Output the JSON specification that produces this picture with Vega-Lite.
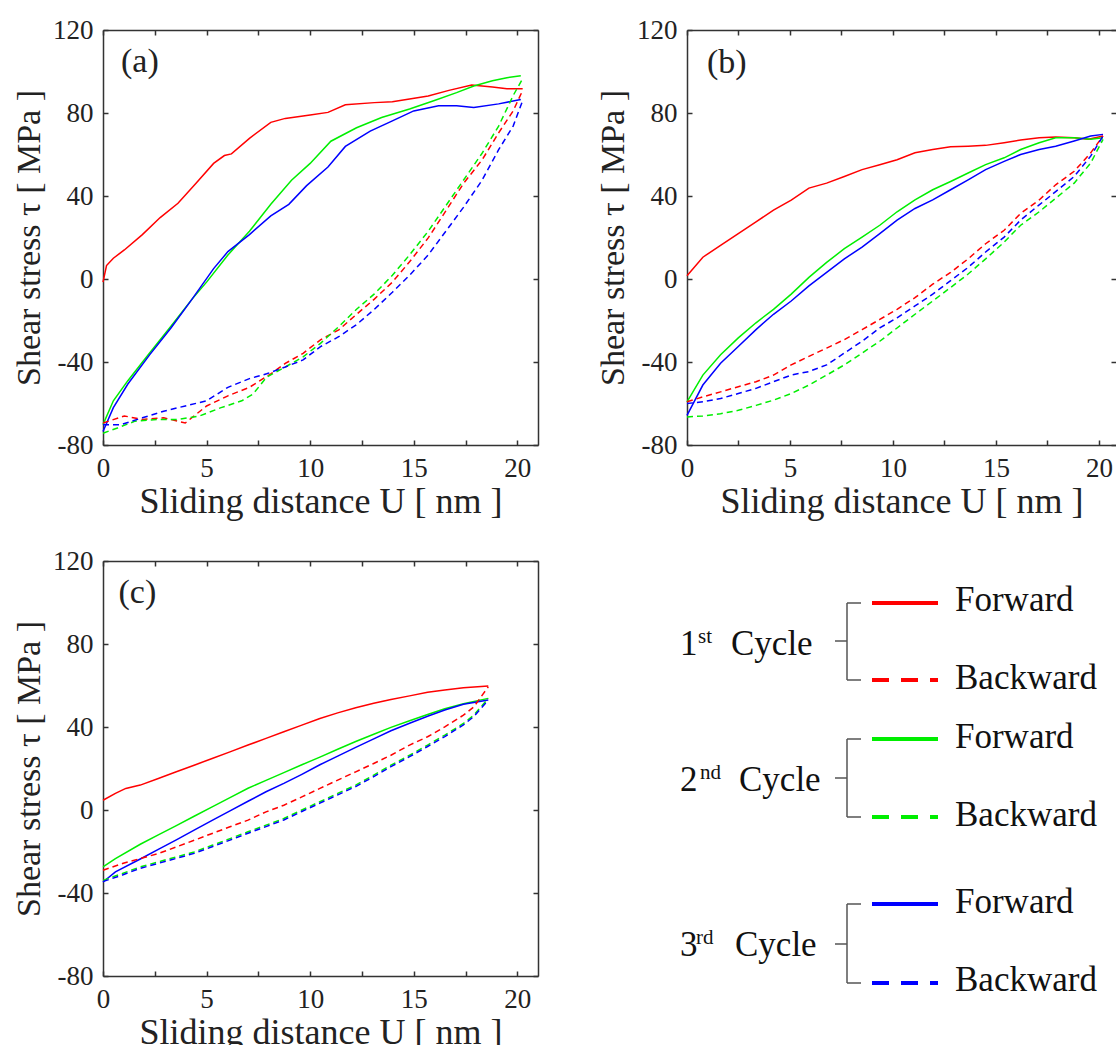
{
"$schema": "https://vega.github.io/schema/vega-lite/v6.json",
"padding": {"left": 12, "top": 16, "right": 0, "bottom": 0},
"background": "white",
"config": {
  "view": {"stroke": null},
  "font": "'Liberation Serif', 'Times New Roman', 'DejaVu Serif', serif",
  "axis": {"domainColor": "#333333", "domainWidth": 1.5, "tickColor": "#333333", "tickWidth": 1.5, "tickSize": -5, "grid": false,
    "labelFont": "'Liberation Serif', 'Times New Roman', 'DejaVu Serif', serif", "labelFontSize": 27, "labelColor": "#222", "labelFlush": false, "labelOverlap": false,
    "titleFont": "'Liberation Serif', 'Times New Roman', 'DejaVu Serif', serif", "titleFontSize": 34, "titleFontWeight": "normal", "titleColor": "#222"},
  "text": {"font": "'Liberation Serif', 'Times New Roman', 'DejaVu Serif', serif"}
},
"columns": 2,
"bounds": "flush",
"spacing": {"row": 116, "column": 149},
"datasets": {
"labels": [
 {"p": "a", "t": "(a)", "x": 0.87, "y": 104.7},
 {"p": "b", "t": "(b)", "x": 0.97, "y": 104},
 {"p": "c", "t": "(c)", "x": 0.75, "y": 104.6}
],
"legBracket": [
 {"x": 160, "x2": 160, "y": 42, "y2": 119}, {"x": 160, "x2": 174, "y": 42, "y2": 42}, {"x": 160, "x2": 174, "y": 119, "y2": 119}, {"x": 148, "x2": 160, "y": 80, "y2": 80},
 {"x": 160, "x2": 160, "y": 178, "y2": 256}, {"x": 160, "x2": 174, "y": 178, "y2": 178}, {"x": 160, "x2": 174, "y": 256, "y2": 256}, {"x": 148, "x2": 160, "y": 217, "y2": 217},
 {"x": 160, "x2": 160, "y": 343, "y2": 422}, {"x": 160, "x2": 174, "y": 343, "y2": 343}, {"x": 160, "x2": 174, "y": 422, "y2": 422}, {"x": 148, "x2": 160, "y": 383, "y2": 383}
],
"legLines": [
 {"c": "1", "d": "F", "x": 185, "x2": 251, "y": 42}, {"c": "1", "d": "B", "x": 185, "x2": 251, "y": 119},
 {"c": "2", "d": "F", "x": 185, "x2": 251, "y": 178}, {"c": "2", "d": "B", "x": 185, "x2": 251, "y": 256},
 {"c": "3", "d": "F", "x": 185, "x2": 251, "y": 343}, {"c": "3", "d": "B", "x": 185, "x2": 251, "y": 422}
],
"legText": [
 {"k": "main", "t": "1", "x": -7, "y": 94}, {"k": "sup", "t": "st", "x": 11, "y": 82}, {"k": "main", "t": "Cycle", "x": 44, "y": 94},
 {"k": "main", "t": "2", "x": -7, "y": 230}, {"k": "sup", "t": "nd", "x": 13, "y": 218}, {"k": "main", "t": "Cycle", "x": 52, "y": 230},
 {"k": "main", "t": "3", "x": -7, "y": 395}, {"k": "sup", "t": "rd", "x": 9, "y": 383}, {"k": "main", "t": "Cycle", "x": 48, "y": 395},
 {"k": "main", "t": "Forward", "x": 268, "y": 50}, {"k": "main", "t": "Backward", "x": 268, "y": 128},
 {"k": "main", "t": "Forward", "x": 268, "y": 187}, {"k": "main", "t": "Backward", "x": 268, "y": 265},
 {"k": "main", "t": "Forward", "x": 268, "y": 352}, {"k": "main", "t": "Backward", "x": 268, "y": 430}
],
"curves": [
{"p":"a","c":"1","d":"F","x":0,"y":-1.5},{"p":"a","c":"1","d":"F","x":0.17,"y":6.5},{"p":"a","c":"1","d":"F","x":0.5,"y":10},{"p":"a","c":"1","d":"F","x":1.03,"y":14},{"p":"a","c":"1","d":"F","x":1.9,"y":21.4},{"p":"a","c":"1","d":"F","x":2.76,"y":29.6},{"p":"a","c":"1","d":"F","x":3.62,"y":36.5},{"p":"a","c":"1","d":"F","x":4.48,"y":46},{"p":"a","c":"1","d":"F","x":5.34,"y":55.7},{"p":"a","c":"1","d":"F","x":5.86,"y":59.5},{"p":"a","c":"1","d":"F","x":6.2,"y":60.3},{"p":"a","c":"1","d":"F","x":7.07,"y":67.8},{"p":"a","c":"1","d":"F","x":8.1,"y":75.5},{"p":"a","c":"1","d":"F","x":8.8,"y":77.4},{"p":"a","c":"1","d":"F","x":10,"y":79},{"p":"a","c":"1","d":"F","x":10.86,"y":80.3},{"p":"a","c":"1","d":"F","x":11.7,"y":84},{"p":"a","c":"1","d":"F","x":13.1,"y":85},{"p":"a","c":"1","d":"F","x":13.97,"y":85.4},{"p":"a","c":"1","d":"F","x":14.8,"y":86.8},{"p":"a","c":"1","d":"F","x":15.7,"y":88.2},{"p":"a","c":"1","d":"F","x":16.7,"y":90.9},{"p":"a","c":"1","d":"F","x":17.8,"y":93.5},{"p":"a","c":"1","d":"F","x":18.8,"y":92.5},{"p":"a","c":"1","d":"F","x":19.5,"y":91.7},{"p":"a","c":"1","d":"F","x":20.26,"y":91.7},
{"p":"a","c":"1","d":"B","x":20.26,"y":90.9},{"p":"a","c":"1","d":"B","x":19.8,"y":81},{"p":"a","c":"1","d":"B","x":19.1,"y":70.4},{"p":"a","c":"1","d":"B","x":18.3,"y":57.4},{"p":"a","c":"1","d":"B","x":17.4,"y":46},{"p":"a","c":"1","d":"B","x":16.55,"y":32.8},{"p":"a","c":"1","d":"B","x":15.7,"y":19.8},{"p":"a","c":"1","d":"B","x":14.8,"y":8.3},{"p":"a","c":"1","d":"B","x":13.97,"y":-1.5},{"p":"a","c":"1","d":"B","x":13.1,"y":-9.7},{"p":"a","c":"1","d":"B","x":12.24,"y":-17},{"p":"a","c":"1","d":"B","x":11.4,"y":-24.4},{"p":"a","c":"1","d":"B","x":10.5,"y":-29.3},{"p":"a","c":"1","d":"B","x":9.66,"y":-35.8},{"p":"a","c":"1","d":"B","x":8.8,"y":-40.7},{"p":"a","c":"1","d":"B","x":8.1,"y":-45.7},{"p":"a","c":"1","d":"B","x":7.07,"y":-52.2},{"p":"a","c":"1","d":"B","x":6.03,"y":-56.3},{"p":"a","c":"1","d":"B","x":5.0,"y":-61.2},{"p":"a","c":"1","d":"B","x":3.97,"y":-69.4},{"p":"a","c":"1","d":"B","x":2.93,"y":-66.9},{"p":"a","c":"1","d":"B","x":1.9,"y":-67.7},{"p":"a","c":"1","d":"B","x":1.03,"y":-66},{"p":"a","c":"1","d":"B","x":0,"y":-69.4},
{"p":"a","c":"2","d":"F","x":0,"y":-70.2},{"p":"a","c":"2","d":"F","x":0.5,"y":-58.7},{"p":"a","c":"2","d":"F","x":1.2,"y":-49},{"p":"a","c":"2","d":"F","x":2.24,"y":-35.8},{"p":"a","c":"2","d":"F","x":3.28,"y":-22.8},{"p":"a","c":"2","d":"F","x":4.3,"y":-9.7},{"p":"a","c":"2","d":"F","x":5,"y":-1.5},{"p":"a","c":"2","d":"F","x":6.03,"y":11.6},{"p":"a","c":"2","d":"F","x":7.07,"y":23},{"p":"a","c":"2","d":"F","x":8.1,"y":36},{"p":"a","c":"2","d":"F","x":9.1,"y":47.6},{"p":"a","c":"2","d":"F","x":10,"y":55.7},{"p":"a","c":"2","d":"F","x":11,"y":66.4},{"p":"a","c":"2","d":"F","x":12.24,"y":72.9},{"p":"a","c":"2","d":"F","x":13.45,"y":77.8},{"p":"a","c":"2","d":"F","x":14.8,"y":81.9},{"p":"a","c":"2","d":"F","x":16,"y":86},{"p":"a","c":"2","d":"F","x":17.07,"y":89.8},{"p":"a","c":"2","d":"F","x":17.9,"y":93},{"p":"a","c":"2","d":"F","x":18.8,"y":95.5},{"p":"a","c":"2","d":"F","x":19.5,"y":97},{"p":"a","c":"2","d":"F","x":20.17,"y":98},
{"p":"a","c":"2","d":"B","x":20.26,"y":96.6},{"p":"a","c":"2","d":"B","x":19.8,"y":88.4},{"p":"a","c":"2","d":"B","x":19.1,"y":73.7},{"p":"a","c":"2","d":"B","x":18.3,"y":60.6},{"p":"a","c":"2","d":"B","x":17.4,"y":47.6},{"p":"a","c":"2","d":"B","x":16.55,"y":35.3},{"p":"a","c":"2","d":"B","x":15.7,"y":23},{"p":"a","c":"2","d":"B","x":14.8,"y":11.6},{"p":"a","c":"2","d":"B","x":13.97,"y":1.8},{"p":"a","c":"2","d":"B","x":13.1,"y":-7.2},{"p":"a","c":"2","d":"B","x":12.24,"y":-14.6},{"p":"a","c":"2","d":"B","x":11.4,"y":-22.8},{"p":"a","c":"2","d":"B","x":10.5,"y":-31},{"p":"a","c":"2","d":"B","x":9.66,"y":-37.5},{"p":"a","c":"2","d":"B","x":8.8,"y":-42.4},{"p":"a","c":"2","d":"B","x":7.9,"y":-47.3},{"p":"a","c":"2","d":"B","x":7.24,"y":-55.5},{"p":"a","c":"2","d":"B","x":6.7,"y":-58.7},{"p":"a","c":"2","d":"B","x":5.7,"y":-62},{"p":"a","c":"2","d":"B","x":4.66,"y":-66},{"p":"a","c":"2","d":"B","x":3.6,"y":-67.7},{"p":"a","c":"2","d":"B","x":2.6,"y":-67.7},{"p":"a","c":"2","d":"B","x":1.55,"y":-68.5},{"p":"a","c":"2","d":"B","x":0.7,"y":-71.8},{"p":"a","c":"2","d":"B","x":0,"y":-74.3},
{"p":"a","c":"3","d":"F","x":0,"y":-73.5},{"p":"a","c":"3","d":"F","x":0.5,"y":-62},{"p":"a","c":"3","d":"F","x":1.2,"y":-50.6},{"p":"a","c":"3","d":"F","x":2.24,"y":-36.7},{"p":"a","c":"3","d":"F","x":3.28,"y":-23.6},{"p":"a","c":"3","d":"F","x":4.3,"y":-9.7},{"p":"a","c":"3","d":"F","x":5.34,"y":5},{"p":"a","c":"3","d":"F","x":6.03,"y":13.2},{"p":"a","c":"3","d":"F","x":7.07,"y":21.4},{"p":"a","c":"3","d":"F","x":8.1,"y":30.4},{"p":"a","c":"3","d":"F","x":8.97,"y":36},{"p":"a","c":"3","d":"F","x":9.83,"y":45},{"p":"a","c":"3","d":"F","x":10.86,"y":54},{"p":"a","c":"3","d":"F","x":11.7,"y":63.9},{"p":"a","c":"3","d":"F","x":12.9,"y":71.3},{"p":"a","c":"3","d":"F","x":13.97,"y":76.2},{"p":"a","c":"3","d":"F","x":15,"y":81},{"p":"a","c":"3","d":"F","x":16.2,"y":83.5},{"p":"a","c":"3","d":"F","x":17.07,"y":83.5},{"p":"a","c":"3","d":"F","x":17.9,"y":82.7},{"p":"a","c":"3","d":"F","x":19.1,"y":84.4},{"p":"a","c":"3","d":"F","x":20.17,"y":86.5},
{"p":"a","c":"3","d":"B","x":20.26,"y":86},{"p":"a","c":"3","d":"B","x":19.8,"y":73.7},{"p":"a","c":"3","d":"B","x":19.1,"y":62.3},{"p":"a","c":"3","d":"B","x":18.3,"y":47.6},{"p":"a","c":"3","d":"B","x":17.4,"y":34.5},{"p":"a","c":"3","d":"B","x":16.55,"y":23},{"p":"a","c":"3","d":"B","x":15.7,"y":11.6},{"p":"a","c":"3","d":"B","x":14.8,"y":1.8},{"p":"a","c":"3","d":"B","x":13.97,"y":-6.4},{"p":"a","c":"3","d":"B","x":13.1,"y":-14.6},{"p":"a","c":"3","d":"B","x":12.24,"y":-22},{"p":"a","c":"3","d":"B","x":11.4,"y":-27.7},{"p":"a","c":"3","d":"B","x":10.5,"y":-32.6},{"p":"a","c":"3","d":"B","x":9.66,"y":-39},{"p":"a","c":"3","d":"B","x":8.8,"y":-42.4},{"p":"a","c":"3","d":"B","x":7.9,"y":-45.7},{"p":"a","c":"3","d":"B","x":7.07,"y":-48},{"p":"a","c":"3","d":"B","x":6.03,"y":-52.2},{"p":"a","c":"3","d":"B","x":5,"y":-58.7},{"p":"a","c":"3","d":"B","x":3.97,"y":-61.2},{"p":"a","c":"3","d":"B","x":2.93,"y":-63.7},{"p":"a","c":"3","d":"B","x":1.9,"y":-66.9},{"p":"a","c":"3","d":"B","x":0.86,"y":-70.2},{"p":"a","c":"3","d":"B","x":0,"y":-70.2},
{"p":"b","c":"1","d":"F","x":0,"y":1.6},{"p":"b","c":"1","d":"F","x":0.77,"y":10.5},{"p":"b","c":"1","d":"F","x":1.63,"y":16.2},{"p":"b","c":"1","d":"F","x":2.49,"y":21.9},{"p":"b","c":"1","d":"F","x":3.35,"y":27.5},{"p":"b","c":"1","d":"F","x":4.2,"y":33.2},{"p":"b","c":"1","d":"F","x":5.06,"y":38},{"p":"b","c":"1","d":"F","x":5.92,"y":43.8},{"p":"b","c":"1","d":"F","x":6.78,"y":46.2},{"p":"b","c":"1","d":"F","x":7.64,"y":49.4},{"p":"b","c":"1","d":"F","x":8.5,"y":52.7},{"p":"b","c":"1","d":"F","x":9.36,"y":55.1},{"p":"b","c":"1","d":"F","x":10.2,"y":57.5},{"p":"b","c":"1","d":"F","x":11.07,"y":60.8},{"p":"b","c":"1","d":"F","x":11.93,"y":62.4},{"p":"b","c":"1","d":"F","x":12.8,"y":63.7},{"p":"b","c":"1","d":"F","x":13.65,"y":64},{"p":"b","c":"1","d":"F","x":14.5,"y":64.4},{"p":"b","c":"1","d":"F","x":15.4,"y":65.7},{"p":"b","c":"1","d":"F","x":16.2,"y":67},{"p":"b","c":"1","d":"F","x":17.1,"y":68.1},{"p":"b","c":"1","d":"F","x":17.9,"y":68.4},{"p":"b","c":"1","d":"F","x":18.8,"y":68.1},{"p":"b","c":"1","d":"F","x":19.5,"y":67.3},{"p":"b","c":"1","d":"F","x":20.2,"y":68.9},
{"p":"b","c":"1","d":"B","x":20.2,"y":68.9},{"p":"b","c":"1","d":"B","x":19.6,"y":60.8},{"p":"b","c":"1","d":"B","x":18.8,"y":51.9},{"p":"b","c":"1","d":"B","x":17.9,"y":45.4},{"p":"b","c":"1","d":"B","x":17.1,"y":38.1},{"p":"b","c":"1","d":"B","x":16.2,"y":31.6},{"p":"b","c":"1","d":"B","x":15.4,"y":23.5},{"p":"b","c":"1","d":"B","x":14.5,"y":17},{"p":"b","c":"1","d":"B","x":13.65,"y":9.7},{"p":"b","c":"1","d":"B","x":12.8,"y":3.2},{"p":"b","c":"1","d":"B","x":11.93,"y":-2.5},{"p":"b","c":"1","d":"B","x":11.07,"y":-9},{"p":"b","c":"1","d":"B","x":10.2,"y":-14.6},{"p":"b","c":"1","d":"B","x":9.36,"y":-19.5},{"p":"b","c":"1","d":"B","x":8.5,"y":-24.4},{"p":"b","c":"1","d":"B","x":7.64,"y":-29.2},{"p":"b","c":"1","d":"B","x":6.78,"y":-33.3},{"p":"b","c":"1","d":"B","x":5.92,"y":-37.3},{"p":"b","c":"1","d":"B","x":5.06,"y":-41.4},{"p":"b","c":"1","d":"B","x":4.2,"y":-46.3},{"p":"b","c":"1","d":"B","x":3.35,"y":-49.5},{"p":"b","c":"1","d":"B","x":2.49,"y":-51.9},{"p":"b","c":"1","d":"B","x":1.63,"y":-54.4},{"p":"b","c":"1","d":"B","x":0.77,"y":-56.8},{"p":"b","c":"1","d":"B","x":0,"y":-59.2},
{"p":"b","c":"2","d":"F","x":0,"y":-59.2},{"p":"b","c":"2","d":"F","x":0.77,"y":-46.3},{"p":"b","c":"2","d":"F","x":1.63,"y":-36.5},{"p":"b","c":"2","d":"F","x":2.49,"y":-28.4},{"p":"b","c":"2","d":"F","x":3.35,"y":-21.1},{"p":"b","c":"2","d":"F","x":4.2,"y":-14.6},{"p":"b","c":"2","d":"F","x":5.06,"y":-7.3},{"p":"b","c":"2","d":"F","x":5.92,"y":0.8},{"p":"b","c":"2","d":"F","x":6.78,"y":8},{"p":"b","c":"2","d":"F","x":7.64,"y":14.6},{"p":"b","c":"2","d":"F","x":8.5,"y":20.2},{"p":"b","c":"2","d":"F","x":9.36,"y":25.9},{"p":"b","c":"2","d":"F","x":10.2,"y":32.4},{"p":"b","c":"2","d":"F","x":11.07,"y":38.1},{"p":"b","c":"2","d":"F","x":11.93,"y":43},{"p":"b","c":"2","d":"F","x":12.8,"y":47},{"p":"b","c":"2","d":"F","x":13.65,"y":51.1},{"p":"b","c":"2","d":"F","x":14.5,"y":55.1},{"p":"b","c":"2","d":"F","x":15.4,"y":58.4},{"p":"b","c":"2","d":"F","x":16.2,"y":62.4},{"p":"b","c":"2","d":"F","x":17.1,"y":65.7},{"p":"b","c":"2","d":"F","x":17.9,"y":68.1},{"p":"b","c":"2","d":"F","x":18.8,"y":68.1},{"p":"b","c":"2","d":"F","x":19.6,"y":67.3},{"p":"b","c":"2","d":"F","x":20.2,"y":68.1},
{"p":"b","c":"2","d":"B","x":20.2,"y":67.3},{"p":"b","c":"2","d":"B","x":19.6,"y":55.9},{"p":"b","c":"2","d":"B","x":18.8,"y":46.2},{"p":"b","c":"2","d":"B","x":17.9,"y":38.9},{"p":"b","c":"2","d":"B","x":17.1,"y":32.4},{"p":"b","c":"2","d":"B","x":16.2,"y":25.9},{"p":"b","c":"2","d":"B","x":15.4,"y":17.8},{"p":"b","c":"2","d":"B","x":14.5,"y":9.7},{"p":"b","c":"2","d":"B","x":13.65,"y":2.4},{"p":"b","c":"2","d":"B","x":12.8,"y":-4.1},{"p":"b","c":"2","d":"B","x":11.93,"y":-10.6},{"p":"b","c":"2","d":"B","x":11.07,"y":-17},{"p":"b","c":"2","d":"B","x":10.2,"y":-23.6},{"p":"b","c":"2","d":"B","x":9.36,"y":-30},{"p":"b","c":"2","d":"B","x":8.5,"y":-35.7},{"p":"b","c":"2","d":"B","x":7.64,"y":-41.4},{"p":"b","c":"2","d":"B","x":6.78,"y":-46.3},{"p":"b","c":"2","d":"B","x":5.92,"y":-51.1},{"p":"b","c":"2","d":"B","x":5.06,"y":-55.2},{"p":"b","c":"2","d":"B","x":4.2,"y":-58.4},{"p":"b","c":"2","d":"B","x":3.35,"y":-60.9},{"p":"b","c":"2","d":"B","x":2.49,"y":-63.3},{"p":"b","c":"2","d":"B","x":1.63,"y":-64.9},{"p":"b","c":"2","d":"B","x":0.77,"y":-66},{"p":"b","c":"2","d":"B","x":0,"y":-66.5},
{"p":"b","c":"3","d":"F","x":0,"y":-65.7},{"p":"b","c":"3","d":"F","x":0.77,"y":-51.1},{"p":"b","c":"3","d":"F","x":1.63,"y":-40.6},{"p":"b","c":"3","d":"F","x":2.49,"y":-32.5},{"p":"b","c":"3","d":"F","x":3.35,"y":-24.4},{"p":"b","c":"3","d":"F","x":4.2,"y":-17},{"p":"b","c":"3","d":"F","x":5.06,"y":-10.6},{"p":"b","c":"3","d":"F","x":5.92,"y":-3.3},{"p":"b","c":"3","d":"F","x":6.78,"y":3.2},{"p":"b","c":"3","d":"F","x":7.64,"y":9.7},{"p":"b","c":"3","d":"F","x":8.5,"y":15.4},{"p":"b","c":"3","d":"F","x":9.36,"y":21.9},{"p":"b","c":"3","d":"F","x":10.2,"y":28.4},{"p":"b","c":"3","d":"F","x":11.07,"y":34},{"p":"b","c":"3","d":"F","x":11.93,"y":38.1},{"p":"b","c":"3","d":"F","x":12.8,"y":43},{"p":"b","c":"3","d":"F","x":13.65,"y":47.8},{"p":"b","c":"3","d":"F","x":14.5,"y":52.7},{"p":"b","c":"3","d":"F","x":15.4,"y":56.7},{"p":"b","c":"3","d":"F","x":16.2,"y":60},{"p":"b","c":"3","d":"F","x":17.1,"y":62.4},{"p":"b","c":"3","d":"F","x":17.9,"y":64},{"p":"b","c":"3","d":"F","x":18.8,"y":66.5},{"p":"b","c":"3","d":"F","x":19.6,"y":68.9},{"p":"b","c":"3","d":"F","x":20.2,"y":69.7},
{"p":"b","c":"3","d":"B","x":20.2,"y":68.9},{"p":"b","c":"3","d":"B","x":19.6,"y":59.2},{"p":"b","c":"3","d":"B","x":18.8,"y":49.4},{"p":"b","c":"3","d":"B","x":17.9,"y":42.1},{"p":"b","c":"3","d":"B","x":17.1,"y":35.7},{"p":"b","c":"3","d":"B","x":16.2,"y":28.4},{"p":"b","c":"3","d":"B","x":15.4,"y":20.2},{"p":"b","c":"3","d":"B","x":14.5,"y":13},{"p":"b","c":"3","d":"B","x":13.65,"y":5.6},{"p":"b","c":"3","d":"B","x":12.8,"y":-0.8},{"p":"b","c":"3","d":"B","x":11.93,"y":-7.3},{"p":"b","c":"3","d":"B","x":11.07,"y":-13},{"p":"b","c":"3","d":"B","x":10.2,"y":-18.7},{"p":"b","c":"3","d":"B","x":9.36,"y":-23.6},{"p":"b","c":"3","d":"B","x":8.5,"y":-30},{"p":"b","c":"3","d":"B","x":7.64,"y":-35.7},{"p":"b","c":"3","d":"B","x":6.78,"y":-41.4},{"p":"b","c":"3","d":"B","x":5.92,"y":-44.6},{"p":"b","c":"3","d":"B","x":5.06,"y":-46.3},{"p":"b","c":"3","d":"B","x":4.2,"y":-49.5},{"p":"b","c":"3","d":"B","x":3.35,"y":-52.7},{"p":"b","c":"3","d":"B","x":2.49,"y":-55.2},{"p":"b","c":"3","d":"B","x":1.63,"y":-57.6},{"p":"b","c":"3","d":"B","x":0.77,"y":-59.2},{"p":"b","c":"3","d":"B","x":0,"y":-60},
{"p":"c","c":"1","d":"F","x":0,"y":4.7},{"p":"c","c":"1","d":"F","x":0.6,"y":8},{"p":"c","c":"1","d":"F","x":1.1,"y":10.4},{"p":"c","c":"1","d":"F","x":1.8,"y":12},{"p":"c","c":"1","d":"F","x":2.67,"y":15.2},{"p":"c","c":"1","d":"F","x":3.54,"y":18.4},{"p":"c","c":"1","d":"F","x":4.4,"y":21.6},{"p":"c","c":"1","d":"F","x":5.27,"y":24.8},{"p":"c","c":"1","d":"F","x":6.13,"y":28},{"p":"c","c":"1","d":"F","x":7,"y":31.3},{"p":"c","c":"1","d":"F","x":7.87,"y":34.5},{"p":"c","c":"1","d":"F","x":8.73,"y":37.7},{"p":"c","c":"1","d":"F","x":9.6,"y":40.9},{"p":"c","c":"1","d":"F","x":10.47,"y":44.1},{"p":"c","c":"1","d":"F","x":11.33,"y":46.8},{"p":"c","c":"1","d":"F","x":12.2,"y":49.3},{"p":"c","c":"1","d":"F","x":13.07,"y":51.4},{"p":"c","c":"1","d":"F","x":13.9,"y":53.3},{"p":"c","c":"1","d":"F","x":14.8,"y":55},{"p":"c","c":"1","d":"F","x":15.67,"y":56.7},{"p":"c","c":"1","d":"F","x":16.5,"y":57.8},{"p":"c","c":"1","d":"F","x":17.4,"y":58.9},{"p":"c","c":"1","d":"F","x":18.6,"y":59.7},
{"p":"c","c":"1","d":"B","x":18.6,"y":59.4},{"p":"c","c":"1","d":"B","x":17.9,"y":49.7},{"p":"c","c":"1","d":"B","x":17.4,"y":45.7},{"p":"c","c":"1","d":"B","x":16.5,"y":40.1},{"p":"c","c":"1","d":"B","x":15.67,"y":35.3},{"p":"c","c":"1","d":"B","x":14.8,"y":31.3},{"p":"c","c":"1","d":"B","x":13.9,"y":26.4},{"p":"c","c":"1","d":"B","x":13.07,"y":22.4},{"p":"c","c":"1","d":"B","x":12.2,"y":18.4},{"p":"c","c":"1","d":"B","x":11.33,"y":14.4},{"p":"c","c":"1","d":"B","x":10.47,"y":10.4},{"p":"c","c":"1","d":"B","x":9.6,"y":6.3},{"p":"c","c":"1","d":"B","x":8.73,"y":2.3},{"p":"c","c":"1","d":"B","x":7.87,"y":-0.9},{"p":"c","c":"1","d":"B","x":7,"y":-4.9},{"p":"c","c":"1","d":"B","x":6.13,"y":-8.1},{"p":"c","c":"1","d":"B","x":5.27,"y":-11.3},{"p":"c","c":"1","d":"B","x":4.4,"y":-14.6},{"p":"c","c":"1","d":"B","x":3.54,"y":-17.8},{"p":"c","c":"1","d":"B","x":2.67,"y":-21},{"p":"c","c":"1","d":"B","x":1.8,"y":-23.4},{"p":"c","c":"1","d":"B","x":0.94,"y":-25.8},{"p":"c","c":"1","d":"B","x":0,"y":-29},
{"p":"c","c":"2","d":"F","x":0,"y":-27.4},{"p":"c","c":"2","d":"F","x":0.6,"y":-23.4},{"p":"c","c":"2","d":"F","x":1.8,"y":-16.5},{"p":"c","c":"2","d":"F","x":2.67,"y":-12},{"p":"c","c":"2","d":"F","x":3.54,"y":-7.5},{"p":"c","c":"2","d":"F","x":4.4,"y":-3},{"p":"c","c":"2","d":"F","x":5.27,"y":1.5},{"p":"c","c":"2","d":"F","x":6.13,"y":6},{"p":"c","c":"2","d":"F","x":7,"y":10.5},{"p":"c","c":"2","d":"F","x":7.87,"y":14.3},{"p":"c","c":"2","d":"F","x":8.73,"y":18},{"p":"c","c":"2","d":"F","x":9.6,"y":21.8},{"p":"c","c":"2","d":"F","x":10.47,"y":25.5},{"p":"c","c":"2","d":"F","x":11.33,"y":29.3},{"p":"c","c":"2","d":"F","x":12.2,"y":33},{"p":"c","c":"2","d":"F","x":13.07,"y":36.5},{"p":"c","c":"2","d":"F","x":13.9,"y":39.8},{"p":"c","c":"2","d":"F","x":14.8,"y":43},{"p":"c","c":"2","d":"F","x":15.67,"y":46},{"p":"c","c":"2","d":"F","x":16.5,"y":48.8},{"p":"c","c":"2","d":"F","x":17.4,"y":51.2},{"p":"c","c":"2","d":"F","x":18.6,"y":53.8},
{"p":"c","c":"2","d":"B","x":18.6,"y":53.8},{"p":"c","c":"2","d":"B","x":17.9,"y":45.7},{"p":"c","c":"2","d":"B","x":17.4,"y":41.7},{"p":"c","c":"2","d":"B","x":16.5,"y":36.1},{"p":"c","c":"2","d":"B","x":15.67,"y":31.3},{"p":"c","c":"2","d":"B","x":14.8,"y":26.4},{"p":"c","c":"2","d":"B","x":13.9,"y":21.6},{"p":"c","c":"2","d":"B","x":13.07,"y":16.8},{"p":"c","c":"2","d":"B","x":12.2,"y":12},{"p":"c","c":"2","d":"B","x":11.33,"y":8},{"p":"c","c":"2","d":"B","x":10.47,"y":4},{"p":"c","c":"2","d":"B","x":9.6,"y":0},{"p":"c","c":"2","d":"B","x":8.73,"y":-4.1},{"p":"c","c":"2","d":"B","x":7.87,"y":-7.3},{"p":"c","c":"2","d":"B","x":7,"y":-10.5},{"p":"c","c":"2","d":"B","x":6.13,"y":-13.8},{"p":"c","c":"2","d":"B","x":5.27,"y":-17},{"p":"c","c":"2","d":"B","x":4.4,"y":-20.2},{"p":"c","c":"2","d":"B","x":3.54,"y":-22.6},{"p":"c","c":"2","d":"B","x":2.67,"y":-25},{"p":"c","c":"2","d":"B","x":1.8,"y":-27.4},{"p":"c","c":"2","d":"B","x":0.94,"y":-30.6},{"p":"c","c":"2","d":"B","x":0,"y":-33.9},
{"p":"c","c":"3","d":"F","x":0,"y":-34.7},{"p":"c","c":"3","d":"F","x":0.6,"y":-29.8},{"p":"c","c":"3","d":"F","x":1.8,"y":-23.6},{"p":"c","c":"3","d":"F","x":2.67,"y":-19},{"p":"c","c":"3","d":"F","x":3.54,"y":-14.4},{"p":"c","c":"3","d":"F","x":4.4,"y":-9.7},{"p":"c","c":"3","d":"F","x":5.27,"y":-5},{"p":"c","c":"3","d":"F","x":6.13,"y":-0.4},{"p":"c","c":"3","d":"F","x":7,"y":4.2},{"p":"c","c":"3","d":"F","x":7.87,"y":8.8},{"p":"c","c":"3","d":"F","x":8.73,"y":12.8},{"p":"c","c":"3","d":"F","x":9.6,"y":17.2},{"p":"c","c":"3","d":"F","x":10.47,"y":21.8},{"p":"c","c":"3","d":"F","x":11.33,"y":26},{"p":"c","c":"3","d":"F","x":12.2,"y":30.2},{"p":"c","c":"3","d":"F","x":13.07,"y":34.3},{"p":"c","c":"3","d":"F","x":13.9,"y":38.2},{"p":"c","c":"3","d":"F","x":14.8,"y":41.8},{"p":"c","c":"3","d":"F","x":15.67,"y":45.2},{"p":"c","c":"3","d":"F","x":16.5,"y":48.2},{"p":"c","c":"3","d":"F","x":17.4,"y":51},{"p":"c","c":"3","d":"F","x":18.6,"y":53},
{"p":"c","c":"3","d":"B","x":18.6,"y":53},{"p":"c","c":"3","d":"B","x":17.9,"y":45},{"p":"c","c":"3","d":"B","x":17.4,"y":41},{"p":"c","c":"3","d":"B","x":16.5,"y":35.4},{"p":"c","c":"3","d":"B","x":15.67,"y":30.6},{"p":"c","c":"3","d":"B","x":14.8,"y":25.7},{"p":"c","c":"3","d":"B","x":13.9,"y":20.9},{"p":"c","c":"3","d":"B","x":13.07,"y":16.1},{"p":"c","c":"3","d":"B","x":12.2,"y":11.3},{"p":"c","c":"3","d":"B","x":11.33,"y":7.3},{"p":"c","c":"3","d":"B","x":10.47,"y":3.3},{"p":"c","c":"3","d":"B","x":9.6,"y":-0.7},{"p":"c","c":"3","d":"B","x":8.73,"y":-4.8},{"p":"c","c":"3","d":"B","x":7.87,"y":-8},{"p":"c","c":"3","d":"B","x":7,"y":-11.2},{"p":"c","c":"3","d":"B","x":6.13,"y":-14.5},{"p":"c","c":"3","d":"B","x":5.27,"y":-17.7},{"p":"c","c":"3","d":"B","x":4.4,"y":-20.9},{"p":"c","c":"3","d":"B","x":3.54,"y":-23.3},{"p":"c","c":"3","d":"B","x":2.67,"y":-25.7},{"p":"c","c":"3","d":"B","x":1.8,"y":-28.1},{"p":"c","c":"3","d":"B","x":0.94,"y":-31.3},{"p":"c","c":"3","d":"B","x":0,"y":-34.5}
]
},
"concat": [
{
 "width": 435, "height": 415,
 "layer": [
  {"data": {"name": "curves"}, "transform": [{"filter": "datum.p === 'a' && datum.d === 'F'"}],
   "mark": {"type": "line", "strokeWidth": 1.5},
   "encoding": {
    "x": {"field": "x", "type": "quantitative", "scale": {"domain": [0, 21], "nice": false, "zero": false},
      "axis": {"orient": "bottom", "values": [0, 2.5, 5, 7.5, 10, 12.5, 15, 17.5, 20], "labelExpr": "datum.value % 5 === 0 ? '' + datum.value : ''", "title": "Sliding distance U [ nm ]", "titleFontSize": 36, "labelPadding": 15, "minExtent": 36, "maxExtent": 36, "titlePadding": 3}},
    "y": {"field": "y", "type": "quantitative", "scale": {"domain": [-80, 120], "nice": false, "zero": false},
      "axis": {"orient": "left", "values": [-80, -40, 0, 40, 80, 120], "labelExpr": "'' + datum.value", "title": "Shear stress τ [ MPa ]", "labelPadding": 15, "minExtent": 50, "maxExtent": 50, "titlePadding": 7}},
    "color": {"field": "c", "type": "nominal", "scale": {"domain": ["1", "2", "3"], "range": ["#ff0000", "#00ee00", "#0000ff"]}, "legend": null}
   }},
  {"data": {"name": "curves"}, "transform": [{"filter": "datum.p === 'a' && datum.d === 'B'"}],
   "mark": {"type": "line", "strokeWidth": 1.5, "strokeDash": [6, 4]},
   "encoding": {
    "x": {"field": "x", "type": "quantitative", "axis": null},
    "y": {"field": "y", "type": "quantitative", "axis": null},
    "color": {"field": "c", "type": "nominal", "scale": {"domain": ["1", "2", "3"], "range": ["#ff0000", "#00ee00", "#0000ff"]}, "legend": null}
   }},
  {"data": {"name": "labels"}, "transform": [{"filter": "datum.p === 'a'"}],
   "mark": {"type": "text", "align": "left", "baseline": "middle", "fontSize": 34, "color": "#222"},
   "encoding": {
    "x": {"field": "x", "type": "quantitative", "axis": {"orient": "top", "values": [0, 2.5, 5, 7.5, 10, 12.5, 15, 17.5, 20], "labels": false, "title": null}},
    "y": {"field": "y", "type": "quantitative", "axis": {"orient": "right", "values": [-80, -40, 0, 40, 80, 120], "labels": false, "title": null}},
    "text": {"field": "t"}
   }}
 ],
 "resolve": {"axis": {"x": "independent", "y": "independent"}}
},
{
 "width": 429, "height": 415,
 "layer": [
  {"data": {"name": "curves"}, "transform": [{"filter": "datum.p === 'b' && datum.d === 'F'"}],
   "mark": {"type": "line", "strokeWidth": 1.5},
   "encoding": {
    "x": {"field": "x", "type": "quantitative", "scale": {"domain": [0, 20.83], "nice": false, "zero": false},
      "axis": {"orient": "bottom", "values": [0, 2.5, 5, 7.5, 10, 12.5, 15, 17.5, 20], "labelExpr": "datum.value % 5 === 0 ? '' + datum.value : ''", "title": "Sliding distance U [ nm ]", "titleFontSize": 36, "labelPadding": 15, "minExtent": 36, "maxExtent": 36, "titlePadding": 3}},
    "y": {"field": "y", "type": "quantitative", "scale": {"domain": [-80, 120], "nice": false, "zero": false},
      "axis": {"orient": "left", "values": [-80, -40, 0, 40, 80, 120], "labelExpr": "'' + datum.value", "title": "Shear stress τ [ MPa ]", "labelPadding": 15, "minExtent": 50, "maxExtent": 50, "titlePadding": 7}},
    "color": {"field": "c", "type": "nominal", "scale": {"domain": ["1", "2", "3"], "range": ["#ff0000", "#00ee00", "#0000ff"]}, "legend": null}
   }},
  {"data": {"name": "curves"}, "transform": [{"filter": "datum.p === 'b' && datum.d === 'B'"}],
   "mark": {"type": "line", "strokeWidth": 1.5, "strokeDash": [6, 4]},
   "encoding": {
    "x": {"field": "x", "type": "quantitative", "axis": null},
    "y": {"field": "y", "type": "quantitative", "axis": null},
    "color": {"field": "c", "type": "nominal", "scale": {"domain": ["1", "2", "3"], "range": ["#ff0000", "#00ee00", "#0000ff"]}, "legend": null}
   }},
  {"data": {"name": "labels"}, "transform": [{"filter": "datum.p === 'b'"}],
   "mark": {"type": "text", "align": "left", "baseline": "middle", "fontSize": 34, "color": "#222"},
   "encoding": {
    "x": {"field": "x", "type": "quantitative", "axis": {"orient": "top", "values": [0, 2.5, 5, 7.5, 10, 12.5, 15, 17.5, 20], "labels": false, "title": null}},
    "y": {"field": "y", "type": "quantitative", "axis": {"orient": "right", "values": [-80, -40, 0, 40, 80, 120], "labels": false, "title": null, "domain": false}},
    "text": {"field": "t"}
   }}
 ],
 "resolve": {"axis": {"x": "independent", "y": "independent"}}
},
{
 "width": 435, "height": 415,
 "layer": [
  {"data": {"name": "curves"}, "transform": [{"filter": "datum.p === 'c' && datum.d === 'F'"}],
   "mark": {"type": "line", "strokeWidth": 1.5},
   "encoding": {
    "x": {"field": "x", "type": "quantitative", "scale": {"domain": [0, 21], "nice": false, "zero": false},
      "axis": {"orient": "bottom", "values": [0, 2.5, 5, 7.5, 10, 12.5, 15, 17.5, 20], "labelExpr": "datum.value % 5 === 0 ? '' + datum.value : ''", "title": "Sliding distance U [ nm ]", "titleFontSize": 36, "labelPadding": 15, "minExtent": 36, "maxExtent": 36, "titlePadding": 3}},
    "y": {"field": "y", "type": "quantitative", "scale": {"domain": [-80, 120], "nice": false, "zero": false},
      "axis": {"orient": "left", "values": [-80, -40, 0, 40, 80, 120], "labelExpr": "'' + datum.value", "title": "Shear stress τ [ MPa ]", "labelPadding": 15, "minExtent": 50, "maxExtent": 50, "titlePadding": 7}},
    "color": {"field": "c", "type": "nominal", "scale": {"domain": ["1", "2", "3"], "range": ["#ff0000", "#00ee00", "#0000ff"]}, "legend": null}
   }},
  {"data": {"name": "curves"}, "transform": [{"filter": "datum.p === 'c' && datum.d === 'B'"}],
   "mark": {"type": "line", "strokeWidth": 1.5, "strokeDash": [6, 4]},
   "encoding": {
    "x": {"field": "x", "type": "quantitative", "axis": null},
    "y": {"field": "y", "type": "quantitative", "axis": null},
    "color": {"field": "c", "type": "nominal", "scale": {"domain": ["1", "2", "3"], "range": ["#ff0000", "#00ee00", "#0000ff"]}, "legend": null}
   }},
  {"data": {"name": "labels"}, "transform": [{"filter": "datum.p === 'c'"}],
   "mark": {"type": "text", "align": "left", "baseline": "middle", "fontSize": 34, "color": "#222"},
   "encoding": {
    "x": {"field": "x", "type": "quantitative", "axis": {"orient": "top", "values": [0, 2.5, 5, 7.5, 10, 12.5, 15, 17.5, 20], "labels": false, "title": null}},
    "y": {"field": "y", "type": "quantitative", "axis": {"orient": "right", "values": [-80, -40, 0, 40, 80, 120], "labels": false, "title": null}},
    "text": {"field": "t"}
   }}
 ],
 "resolve": {"axis": {"x": "independent", "y": "independent"}}
},
{
 "width": 429, "height": 415,
 "layer": [
  {"data": {"name": "legBracket"},
   "mark": {"type": "rule", "color": "#555", "strokeWidth": 1.5},
   "encoding": {
    "x": {"field": "x", "type": "quantitative", "scale": {"domain": [0, 429], "nice": false, "zero": false}, "axis": null},
    "x2": {"field": "x2"},
    "y": {"field": "y", "type": "quantitative", "scale": {"domain": [0, 415], "nice": false, "zero": false, "reverse": true}, "axis": null},
    "y2": {"field": "y2"}
   }},
  {"data": {"name": "legLines"}, "transform": [{"filter": "datum.d === 'F'"}],
   "mark": {"type": "rule", "strokeWidth": 4},
   "encoding": {
    "x": {"field": "x", "type": "quantitative", "axis": null},
    "x2": {"field": "x2"},
    "y": {"field": "y", "type": "quantitative", "axis": null},
    "color": {"field": "c", "type": "nominal", "scale": {"domain": ["1", "2", "3"], "range": ["#ff0000", "#00ee00", "#0000ff"]}, "legend": null}
   }},
  {"data": {"name": "legLines"}, "transform": [{"filter": "datum.d === 'B'"}],
   "mark": {"type": "rule", "strokeWidth": 4, "strokeDash": [17, 12]},
   "encoding": {
    "x": {"field": "x", "type": "quantitative", "axis": null},
    "x2": {"field": "x2"},
    "y": {"field": "y", "type": "quantitative", "axis": null},
    "color": {"field": "c", "type": "nominal", "scale": {"domain": ["1", "2", "3"], "range": ["#ff0000", "#00ee00", "#0000ff"]}, "legend": null}
   }},
  {"data": {"name": "legText"}, "transform": [{"filter": "datum.k === 'main'"}],
   "mark": {"type": "text", "align": "left", "baseline": "alphabetic", "fontSize": 35, "color": "#111"},
   "encoding": {
    "x": {"field": "x", "type": "quantitative", "axis": null},
    "y": {"field": "y", "type": "quantitative", "axis": null},
    "text": {"field": "t"}
   }},
  {"data": {"name": "legText"}, "transform": [{"filter": "datum.k === 'sup'"}],
   "mark": {"type": "text", "align": "left", "baseline": "alphabetic", "fontSize": 21, "color": "#111"},
   "encoding": {
    "x": {"field": "x", "type": "quantitative", "axis": null},
    "y": {"field": "y", "type": "quantitative", "axis": null},
    "text": {"field": "t"}
   }}
 ]
}
]
}
